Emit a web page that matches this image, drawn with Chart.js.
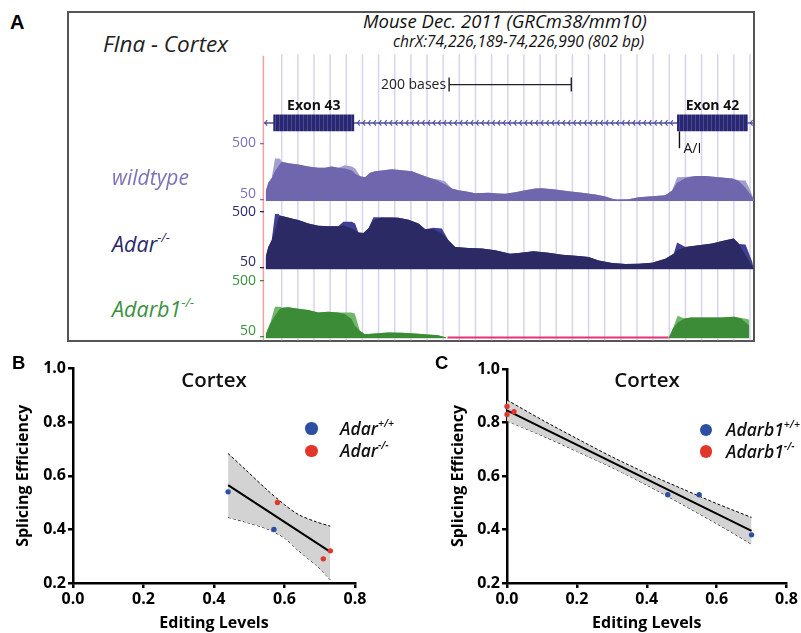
<!DOCTYPE html>
<html>
<head>
<meta charset="utf-8">
<script src="https://cdn.jsdelivr.net/npm/chart.js@4.4.1/dist/chart.umd.min.js"></script>
<style>
  html, body { margin:0; padding:0; background:#fff; }
  #root { position:relative; width:801px; height:633px; overflow:hidden; background:#fff; font-family:'Open Sans', sans-serif; }
  #root canvas { position:absolute; }
  .t { position:absolute; white-space:nowrap; line-height:1; }
  .t sup { font-size:0.6em; line-height:0; vertical-align:0.8em; }
  .dot { position:absolute; border-radius:50%; }
  #boxA { position:absolute; left:67px; top:11px; width:684px; height:327px; border:2px solid #555; }
</style>
</head>
<body>
<div id="root">
  <div id="boxA"></div>
  <canvas id="cvGene" width="498" height="288" style="left:258px;top:53px"></canvas>
  <canvas id="cvWT" width="554" height="78" style="left:200px;top:133px"></canvas>
  <canvas id="cvAdar" width="554" height="78" style="left:200px;top:201px"></canvas>
  <canvas id="cvAdarb1" width="554" height="78" style="left:200px;top:270px"></canvas>
  <canvas id="cvB" width="380" height="283" style="left:0px;top:350px"></canvas>
  <canvas id="cvC" width="366" height="283" style="left:435px;top:350px"></canvas>
</div>
<script>
// ---------------- DATA ----------------
// Panel A: genome view (positions in bp from left edge of chrX:74,226,189-74,226,990)
const viewLength = 802;
const exonNames = ['Exon 43', 'Exon 42'];
const exonStart = [15, 676];
const exonEnd = [148, 792];
const editSite = 680;            // A/I site
const scaleBarStart = 303;
const scaleBarBases = 200;
const trackTicks = [50, 500];

const wtPos = [2.8, 7, 12.6, 18, 26.2, 29, 39.8, 56.2, 72.6, 89, 99.9, 110.9, 121.7, 132.7, 143.7, 149.1, 157.3, 165.5, 173.7, 181.9, 192.8, 209.2, 225.6, 242, 252.8, 263.8, 274.8, 285.6, 296.6, 307.5, 318.3, 329.3, 345.7, 367.5, 383.9, 394.9, 411.2, 427.6, 444, 455, 476.8, 498.6, 520.5, 542.3, 558.7, 569.7, 577.9, 596.9, 613.3, 635.2, 657, 668, 676.2, 689.8, 706.2, 722.5, 744.3, 766.3, 777.1, 788.1, 796.3, 801.7];
const wildtype = [117, 184, 224, 278, 337, 353, 342, 332, 316, 305, 305, 316, 305, 299, 283, 257, 238, 230, 265, 278, 283, 294, 286, 278, 257, 238, 219, 198, 171, 139, 125, 117, 101, 104, 98, 96, 109, 125, 139, 141, 131, 117, 104, 90, 74, 56, 50, 53, 69, 77, 85, 123, 184, 224, 240, 240, 230, 219, 198, 144, 90, 50];
const wildtypeHi = [117, 184, 224, 380, 378, 353, 342, 332, 316, 305, 305, 316, 305, 326, 315, 300, 238, 230, 265, 278, 283, 294, 286, 278, 257, 238, 219, 211, 195, 139, 125, 117, 101, 104, 98, 96, 109, 125, 139, 141, 131, 117, 104, 90, 74, 56, 50, 53, 69, 77, 85, 123, 230, 232, 240, 240, 230, 219, 205, 203, 120, 50];

const adarPos = [2.8, 7, 12.6, 18, 23.5, 26.2, 34.4, 45.4, 56.2, 72.6, 89, 105.3, 121.7, 129.9, 143.7, 149.1, 154.5, 162.7, 170.9, 179.1, 192.8, 209.2, 220, 236.4, 252.8, 263.8, 277.4, 291.1, 301.9, 312.9, 334.7, 356.7, 378.5, 403, 416.7, 441.2, 465.8, 487.8, 515, 531.3, 547.7, 569.7, 591.5, 613.3, 635.2, 657, 670.6, 676.2, 689.8, 711.6, 733.5, 755.3, 768.9, 777.1, 788.1, 799, 801.7];
const adarKO = [136, 217, 271, 352, 446, 468, 460, 446, 433, 406, 387, 384, 384, 392, 365, 352, 333, 330, 365, 433, 452, 454, 452, 435, 406, 360, 360, 325, 271, 217, 209, 204, 190, 163, 169, 182, 171, 155, 144, 136, 109, 88, 80, 82, 90, 123, 163, 190, 217, 231, 244, 271, 284, 244, 150, 69, 37];
const adarKOHi = [136, 217, 271, 481, 481, 470, 460, 446, 433, 406, 387, 384, 384, 419, 419, 405, 333, 330, 365, 455, 455, 454, 452, 435, 406, 360, 372, 365, 271, 217, 209, 204, 190, 163, 169, 182, 171, 155, 144, 136, 109, 88, 80, 82, 90, 123, 163, 252, 217, 231, 244, 271, 284, 240, 236, 100, 37];

const adarb1Pos = [2.8, 9.8, 18, 26.2, 29, 39.8, 56.2, 72.6, 89, 105.3, 121.7, 132.7, 143.7, 149.1, 157.3, 165.5, 181.9, 203.7, 225.6, 247.4, 269.2, 285.6, 299.3, 480, 664.1, 670.6, 678.8, 689.8, 700.7, 722.5, 749.9, 771.7, 782.7, 793.5, 796.3];
const adarb1KO = [71, 152, 219, 272, 280, 286, 275, 264, 245, 251, 245, 232, 192, 138, 98, 71, 77, 85, 82, 77, 69, 63, 45, null, 40, 112, 165, 197, 205, 205, 205, 211, 197, 152, 140];
const adarb1KOHi = [71, 152, 291, 291, 285, 286, 275, 264, 245, 251, 245, 245, 245, 235, 98, 71, 77, 85, 82, 77, 69, 63, 45, null, 40, 112, 219, 197, 205, 205, 205, 211, 200, 192, 185];
const zeroCovStart = 301, zeroCovEnd = 664, zeroCovLevel = 43;

// Panel B: Adar
const bEditWT = [0.44, 0.57];
const bSpliceWT = [0.54, 0.40];
const bEditKO = [0.58, 0.71, 0.73];
const bSpliceKO = [0.50, 0.29, 0.32];
const bFitX = [0.44, 0.73];
const bFitY = [0.565, 0.316];
const bBandX = [0.44, 0.49, 0.55, 0.60, 0.64, 0.69, 0.73];
const bBandHi = [0.683, 0.622, 0.548, 0.492, 0.455, 0.428, 0.412];
const bBandLo = [0.445, 0.427, 0.402, 0.368, 0.320, 0.266, 0.212];

// Panel C: Adarb1
const cEditWT = [0.46, 0.55, 0.70];
const cSpliceWT = [0.53, 0.53, 0.38];
const cEditKO = [0.00, 0.00, 0.02];
const cSpliceKO = [0.86, 0.83, 0.84];
const cFitX = [0.00, 0.70];
const cFitY = [0.845, 0.395];
const cBandX = [0, 0.1, 0.2, 0.3, 0.4, 0.5, 0.6, 0.7];
const cBandHi = [0.884, 0.810, 0.740, 0.672, 0.610, 0.553, 0.497, 0.445];
const cBandLo = [0.806, 0.751, 0.692, 0.632, 0.566, 0.495, 0.422, 0.345];

const xTicks = [0, 0.2, 0.4, 0.6, 0.8];
const yTicks = [0.2, 0.4, 0.6, 0.8, 1.0];

// ---------------- RENDER ----------------
Chart.defaults.font.family = "'Open Sans', sans-serif";
const root = document.getElementById('root');
const charts = [];
const pts = (xs, ys) => xs.map((x, i) => ({ x: x, y: ys[i] }));

// --- gene model / guidelines ---
const geneCtx = document.getElementById('cvGene').getContext('2d');
const pc = document.createElement('canvas'); pc.width = 4; pc.height = 2;
const pcx = pc.getContext('2d');
pcx.fillStyle = '#29286f'; pcx.fillRect(0, 0, 4, 2);
pcx.fillStyle = '#4a489c'; pcx.fillRect(1, 0, 1, 2);
const exonFill = geneCtx.createPattern(pc, 'repeat');

const GENE_TOP = 61, GENE_BOTTOM = 78, GENE_MID = 69.5, BAR_Y = 31, AI_TOP = 78, AI_BOTTOM = 95;

const browserDecor = {
  id: 'browserDecor',
  beforeDatasetsDraw(chart) {
    const { ctx, chartArea: a, scales: { x } } = chart;
    ctx.save();
    ctx.lineWidth = 1.5;
    ctx.strokeStyle = '#d7d5ec';
    for (let i = 0; i < 30; i++) {
      const px = x.getPixelForValue(29 + i * 26.43);
      ctx.beginPath(); ctx.moveTo(px, a.top + 0.5); ctx.lineTo(px, a.bottom); ctx.stroke();
    }
    ctx.strokeStyle = '#f2a2a2';
    const rx = x.getPixelForValue(-1);
    ctx.beginPath(); ctx.moveTo(rx, a.top + 2); ctx.lineTo(rx, a.bottom); ctx.stroke();
    ctx.restore();
  },
  afterDatasetsDraw(chart) {
    const { ctx, scales: { x, y } } = chart;
    ctx.save();
    // intron chevrons (minus strand)
    const ym = y.getPixelForValue(GENE_MID);
    ctx.strokeStyle = '#4f4d9e'; ctx.lineWidth = 1.1;
    const chev = (px) => { ctx.beginPath(); ctx.moveTo(px + 2.3, ym - 2.8); ctx.lineTo(px, ym); ctx.lineTo(px + 2.3, ym + 2.8); ctx.stroke(); };
    const s0 = x.getPixelForValue(exonEnd[0]) + 3, s1 = x.getPixelForValue(exonStart[1]) - 3;
    for (let px = s0; px < s1; px += 5.4) chev(px);
    chev(x.getPixelForValue(1.5));
    chev(x.getPixelForValue(exonEnd[1] + 4));
    // scale bar
    const b0 = x.getPixelForValue(scaleBarStart), b1 = x.getPixelForValue(scaleBarStart + scaleBarBases);
    const by = y.getPixelForValue(BAR_Y);
    ctx.strokeStyle = '#222'; ctx.lineWidth = 1.4;
    ctx.beginPath(); ctx.moveTo(b0, by); ctx.lineTo(b1, by);
    ctx.moveTo(b0, by - 7); ctx.lineTo(b0, by + 7);
    ctx.moveTo(b1, by - 7); ctx.lineTo(b1, by + 7); ctx.stroke();
    // A/I marker
    const ax = x.getPixelForValue(editSite);
    ctx.strokeStyle = '#111'; ctx.lineWidth = 1.4;
    ctx.beginPath(); ctx.moveTo(ax, y.getPixelForValue(AI_TOP)); ctx.lineTo(ax, y.getPixelForValue(AI_BOTTOM)); ctx.stroke();
    ctx.restore();
  }
};

const geneChart = new Chart(geneCtx, {
  type: 'line',
  data: { datasets: [
    ...exonStart.map((s, i) => ({ data: [{ x: s, y: GENE_TOP }, { x: exonEnd[i], y: GENE_TOP }], fill: { value: GENE_BOTTOM }, backgroundColor: exonFill, borderColor: 'rgba(0,0,0,0)', borderWidth: 0, pointRadius: 0 })),
    { data: [{ x: 0, y: GENE_MID }, { x: viewLength, y: GENE_MID }], borderColor: '#4f4d9e', borderWidth: 1.5, pointRadius: 0, fill: false }
  ] },
  options: {
    responsive: false, animation: false, events: [],
    layout: { padding: { left: 6, right: 2, top: 0, bottom: 0 } },
    plugins: { legend: { display: false }, tooltip: { enabled: false } },
    scales: {
      x: { type: 'linear', min: 0, max: viewLength, display: false },
      y: { type: 'linear', min: 0, max: 288, reverse: true, display: false }
    }
  },
  plugins: [browserDecor]
});
charts.push(geneChart);

// --- coverage tracks ---
function trackChart(id, pos, cov, hi, dark, light, tickColor, padTop, padBottom, extra) {
  const datasets = [];
  if (extra) datasets.push(extra);
  datasets.push({ data: pts(pos, cov), fill: 'start', backgroundColor: dark, borderColor: 'rgba(0,0,0,0)', borderWidth: 0, pointRadius: 0, tension: 0 });
  datasets.push({ data: pts(pos, hi), fill: 'start', backgroundColor: light, borderColor: 'rgba(0,0,0,0)', borderWidth: 0, pointRadius: 0, tension: 0 });
  const c = new Chart(document.getElementById(id), {
    type: 'line',
    data: { datasets },
    options: {
      responsive: false, animation: false, events: [],
      layout: { padding: { left: 0, right: 0, top: padTop, bottom: padBottom } },
      plugins: { legend: { display: false }, tooltip: { enabled: false } },
      scales: {
        x: { type: 'linear', min: 0, max: viewLength, display: false },
        y: {
          type: 'linear', min: 36, max: 500,
          afterBuildTicks: s => { s.ticks = trackTicks.map(v => ({ value: v })); },
          afterFit: s => { s.width = 64; s.paddingTop = 0; s.paddingBottom = 0; },
          ticks: { color: tickColor, padding: 4, font: { size: 14, lineHeight: 0.85 },
                   callback: v => v === trackTicks[0] ? [String(v), ''] : String(v) },
          grid: { drawOnChartArea: false, drawTicks: true, tickLength: 4, color: tickColor, lineWidth: 1.3 },
          border: { display: false }
        }
      }
    }
  });
  charts.push(c);
  return c;
}
trackChart('cvWT', wtPos, wildtype, wildtypeHi, '#7066ad', '#a39dd0', '#7b73b9', 10.5, 9.7);
trackChart('cvAdar', adarPos, adarKO, adarKOHi, '#2b2a64', '#403e95', '#2b2968', 10.7, 9.5);
trackChart('cvAdarb1', adarb1Pos, adarb1KO, adarb1KOHi, '#3b8b37', '#70b66b', '#3a9240', 10.7, 9.5,
  { data: [{ x: zeroCovStart, y: zeroCovLevel }, { x: zeroCovEnd, y: zeroCovLevel }], borderColor: '#e3307a', borderWidth: 2.5, pointRadius: 0, fill: false });

// --- scatter panels ---
function scatterChart(id, eWT, sWT, eKO, sKO, fx, fy, bx, bhi, blo, yWidth, padTop, padRight) {
  const tickFont = { size: 16, weight: 'bold' };
  const gridOpt = { drawOnChartArea: false, drawTicks: true, tickLength: 5, color: '#000', lineWidth: 2.5 };
  const c = new Chart(document.getElementById(id), {
    type: 'scatter',
    data: { datasets: [
      { data: pts(eKO, sKO), backgroundColor: '#e4352a', borderWidth: 0, pointRadius: 2.7, clip: false },
      { data: pts(eWT, sWT), backgroundColor: '#2c4ea3', borderWidth: 0, pointRadius: 2.7, clip: false },
      { data: pts(fx, fy), showLine: true, borderColor: '#000', borderWidth: 2, pointRadius: 0 },
      { data: pts(bx, bhi), showLine: true, borderColor: '#000', borderWidth: 1, borderDash: [3, 2], pointRadius: 0, tension: 0.3, fill: '+1', backgroundColor: '#d3d3d3' },
      { data: pts(bx, blo), showLine: true, borderColor: '#000', borderWidth: 1, borderDash: [3, 2], pointRadius: 0, tension: 0.3, fill: false }
    ] },
    options: {
      responsive: false, animation: false, events: [],
      layout: { padding: { top: padTop, right: padRight, left: 0, bottom: 0 } },
      plugins: { legend: { display: false }, tooltip: { enabled: false } },
      scales: {
        x: { type: 'linear', min: xTicks[0], max: xTicks[xTicks.length - 1],
             afterBuildTicks: s => { s.ticks = xTicks.map(v => ({ value: v })); },
             ticks: { color: '#000', font: tickFont, padding: 2, callback: v => Number(v).toFixed(1) },
             grid: gridOpt, border: { color: '#000', width: 2.5 },
             title: { display: true, text: 'Editing Levels', color: '#000', font: { size: 16, weight: 'bold' }, padding: { top: 0, bottom: 0 } },
             afterFit: s => { s.height = 50; s.paddingLeft = 0; s.paddingRight = 0; } },
        y: { type: 'linear', min: yTicks[0], max: yTicks[yTicks.length - 1],
             afterBuildTicks: s => { s.ticks = yTicks.map(v => ({ value: v })); },
             ticks: { color: '#000', font: tickFont, padding: 2, callback: v => Number(v).toFixed(1) },
             grid: gridOpt, border: { color: '#000', width: 2.5 },
             title: { display: true, text: 'Splicing Efficiency', color: '#000', font: { size: 16, weight: 'bold' }, padding: { top: 14, bottom: 0 } },
             afterFit: s => { s.width = yWidth; s.paddingTop = 0; s.paddingBottom = 0; } }
      }
    }
  });
  charts.push(c);
  return c;
}
scatterChart('cvB', bEditWT, bSpliceWT, bEditKO, bSpliceKO, bFitX, bFitY, bBandX, bBandHi, bBandLo, 73, 18.5, 25);
scatterChart('cvC', cEditWT, cSpliceWT, cEditKO, cSpliceKO, cFitX, cFitY, cBandX, cBandHi, cBandLo, 72, 19, 14.5);

// ---------------- TEXT ----------------
function addText(html, x, baseline, size, style, anchor, ratio) {
  const d = document.createElement('div');
  d.className = 't';
  d.innerHTML = html;
  d.style.fontSize = size + 'px';
  d.style.left = x + 'px';
  d.style.top = (baseline - (ratio || 0.888) * size) + 'px';
  if (style) Object.assign(d.style, style);
  if (anchor === 'center') d.style.transform = 'translateX(-50%)';
  if (anchor === 'right') d.style.transform = 'translateX(-100%)';
  root.appendChild(d);
  return d;
}
function addDot(cx, cy, r, color) {
  const d = document.createElement('div');
  d.className = 'dot';
  Object.assign(d.style, { left: (cx - r) + 'px', top: (cy - r) + 'px', width: (2 * r) + 'px', height: (2 * r) + 'px', background: color });
  root.appendChild(d);
}
const letterStyle = { fontFamily: "'Liberation Sans', Arial, sans-serif", fontWeight: 'bold', color: '#000' };
addText('A', 10, 29.3, 20, letterStyle, null, 0.847);
addText('B', 12, 370, 18.5, letterStyle, null, 0.847);
addText('C', 435, 370, 18.5, letterStyle, null, 0.847);

const it = { fontStyle: 'italic' };
addText('Flna - Cortex', 103, 52.7, 22.5, { fontStyle: 'italic', color: '#222' });
addText('Mouse Dec. 2011 (GRCm38/mm10)', 363, 28.5, 18.5, { fontStyle: 'italic', color: '#111' });
addText('chrX:74,226,189-74,226,990 (802 bp)', 393, 47.7, 15.5, { fontStyle: 'italic', color: '#111' });

const gx = geneChart.scales.x;
const gLeft = 258;
addText('200 bases', gLeft + gx.getPixelForValue(scaleBarStart) - 3, 89, 14, { color: '#222' }, 'right');
exonNames.forEach((n, i) => {
  addText(n, gLeft + gx.getPixelForValue((exonStart[i] + exonEnd[i]) / 2), 110, 14, { fontWeight: 'bold', color: '#111' }, 'center');
});
addText('A/I', gLeft + gx.getPixelForValue(editSite) + 4, 153, 14, { color: '#111' });

addText('wildtype', 112, 186, 21, { fontStyle: 'italic', color: '#7b73b9' });
addText('Adar<sup>-/-</sup>', 112, 251.7, 21.5, { fontStyle: 'italic', color: '#2b2968' });
addText('Adarb1<sup>-/-</sup>', 112, 317.3, 21.5, { fontStyle: 'italic', color: '#3a9240' });

const titleStyle = { fontWeight: '600', color: '#111' };
addText('Cortex', 214, 387, 20.5, titleStyle, 'center');
addText('Cortex', 647, 387, 20.5, titleStyle, 'center');

const legStyle = { fontStyle: 'italic', fontWeight: '600', color: '#111' };
addDot(311.7, 428.3, 6.3, '#2c4ea3');
addDot(311.7, 451, 6.3, '#e4352a');
addText('Adar<sup>+/+</sup>', 340, 435.7, 17.5, legStyle);
addText('Adar<sup>-/-</sup>', 340, 457.7, 17.5, legStyle);
addDot(706, 430, 6.3, '#2c4ea3');
addDot(706, 451.5, 6.3, '#e4352a');
addText('Adarb1<sup>+/+</sup>', 726, 436.7, 17.5, legStyle);
addText('Adarb1<sup>-/-</sup>', 726, 458.3, 17.5, legStyle);

if (document.fonts && document.fonts.ready) {
  document.fonts.ready.then(() => charts.forEach(c => c.update('none')));
}
</script>
</body>
</html>
